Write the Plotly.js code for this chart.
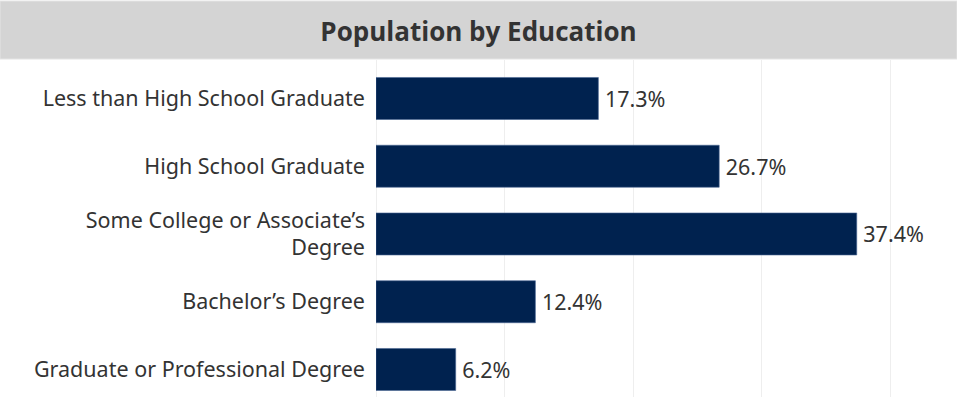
<!DOCTYPE html>
<html>
<head>
<meta charset="utf-8">
<script src="https://cdn.plot.ly/plotly-3.0.1.min.js"></script>
<style>html,body{margin:0;padding:0;background:#fff;}#chart{width:957px;height:397px;}</style>
</head>
<body>
<div id="chart"></div>
<script>
const categories = [
  "Less than High School Graduate",
  "High School Graduate",
  "Some College or Associate’s<br>Degree",
  "Bachelor’s Degree",
  "Graduate or Professional Degree"
];
const values = [17.3, 26.7, 37.4, 12.4, 6.2];
const valueLabels = values.map(v => "\u2009" + v.toFixed(1) + "%");
const titleText = "Population by Education";

const trace = {
  type: "bar",
  orientation: "h",
  y: categories,
  x: values,
  text: valueLabels,
  textposition: "outside",
  cliponaxis: false,
  textfont: {family: "Noto Sans, sans-serif", size: 21.5, color: "#333333"},
  marker: {color: "#00224f", line: {color: "#4a6794", width: 0.6}},
  hoverinfo: "none"
};

const layout = {
  width: 957, height: 397,
  margin: {l: 376, r: 0, t: 60, b: 0, pad: 0},
  paper_bgcolor: "#ffffff",
  plot_bgcolor: "#ffffff",
  bargap: 0.38,
  showlegend: false,
  font: {family: "Noto Sans, sans-serif", color: "#333333"},
  title: {
    text: "<b>" + titleText + "</b>",
    font: {family: "Open Sans, sans-serif", size: 26, color: "#333333"},
    x: 0.5, xanchor: "center",
    y: 1 - 32/397, yref: "container", yanchor: "middle"
  },
  xaxis: {
    range: [0, 45.2],
    showticklabels: false,
    showgrid: true, gridcolor: "#eeeeee", gridwidth: 1,
    dtick: 10,
    zeroline: true, zerolinecolor: "#eeeeee", zerolinewidth: 1,
    showline: false, fixedrange: true
  },
  yaxis: {
    type: "category",
    range: [4.406, -0.568],
    showgrid: false, zeroline: false, showline: false,
    ticks: "",
    ticklabelstandoff: 10,
    tickfont: {family: "Noto Sans, sans-serif", size: 21.5, color: "#333333"},
    fixedrange: true
  },
  shapes: [{
    type: "rect", xref: "paper", yref: "paper",
    x0: -376/581, x1: 1, y0: 1 + 1/337, y1: 1 + 59/337,
    fillcolor: "#d4d4d4", line: {color: "#e4e4e4", width: 1}, layer: "below"
  }]
};

Plotly.newPlot("chart", [trace], layout, {displayModeBar: false, staticPlot: true});
</script>
</body>
</html>
